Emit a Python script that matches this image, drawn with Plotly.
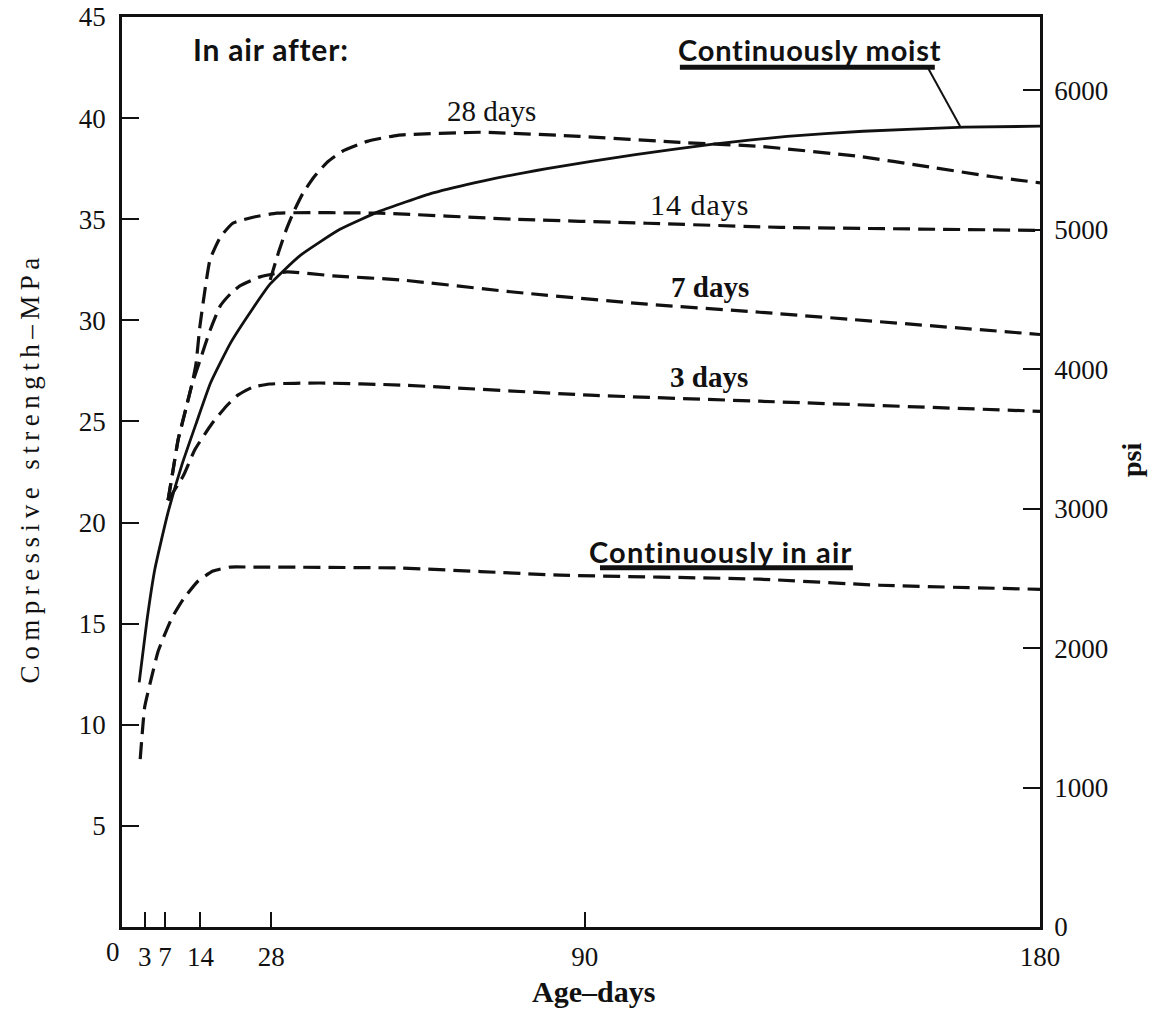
import plotly.graph_objects as go

MPA_TO_PSI = 145.038

# ---- data ----
moist_days = [1.9, 3.4, 5.0, 7.6, 10.4, 13.3, 16.0, 20.0, 24.4, 27.8, 33.7, 41.6, 49.5, 60, 70, 82.5, 100, 115, 130, 145, 165, 180]
moist_mpa = [12.1, 15.1, 17.7, 20.5, 22.9, 25.0, 26.9, 28.9, 30.6, 31.8, 33.2, 34.5, 35.4, 36.3, 36.9, 37.5, 38.2, 38.7, 39.1, 39.35, 39.55, 39.6]

air_days = [2.1, 3.0, 4.4, 5.6, 7.0, 8.4, 10.6, 13.5, 16.5, 19.9, 23.8, 53.5, 85.1, 124.6, 148.3, 180]
air_mpa = [8.3, 10.9, 12.4, 13.6, 14.5, 15.3, 16.2, 17.1, 17.6, 17.8, 17.8, 17.75, 17.4, 17.2, 16.9, 16.7]

d3_days = [7.6, 10.6, 12.9, 16.3, 19.3, 21.4, 24.4, 27.7, 37.6, 53.5, 91.0, 124.6, 180]
d3_mpa = [21.1, 22.3, 23.6, 24.9, 25.8, 26.3, 26.7, 26.85, 26.9, 26.8, 26.3, 26.0, 25.5]

d7_days = [7.6, 8.6, 9.6, 10.4, 11.4, 12.3, 13.9, 15.9, 17.9, 19.9, 21.8, 25.8, 31.1, 40.2, 53.5, 75.8, 102.3, 124.6, 180]
d7_mpa = [21.1, 22.6, 24.1, 24.9, 25.9, 26.8, 28.0, 29.5, 30.7, 31.3, 31.7, 32.15, 32.4, 32.2, 32.0, 31.4, 30.8, 30.4, 29.3]

d14_days = [7.6, 8.6, 9.6, 10.4, 11.4, 12.3, 13.1, 13.9, 14.9, 15.9, 17.9, 20.4, 24.4, 29.1, 49.5, 75.8, 102.3, 128.6, 180]
d14_mpa = [21.1, 22.6, 24.1, 24.9, 25.9, 26.8, 27.8, 29.7, 31.5, 33.0, 34.1, 34.8, 35.1, 35.3, 35.3, 35.0, 34.8, 34.6, 34.45]

d28_days = [27.8, 29.5, 31.0, 32.5, 34.3, 36.5, 39.0, 42.0, 47.0, 53.0, 69.3, 89.0, 108.8, 124.6, 144.4, 157.7, 170.7, 180]
d28_mpa = [32.0, 33.4, 34.5, 35.4, 36.3, 37.1, 37.8, 38.35, 38.85, 39.15, 39.3, 39.1, 38.8, 38.6, 38.1, 37.6, 37.1, 36.8]

x_tickvals = [3, 7, 14, 28, 90, 180]
x_ticktext = ["3", "7", "14", "28", "90", "180"]
y_tickvals = [5, 10, 15, 20, 25, 30, 35, 40, 45]
psi_tickvals = [0, 1000, 2000, 3000, 4000, 5000, 6000]

INK = "#111111"
DASH = "17px,8px"

fig = go.Figure()

for days, vals in [(air_days, air_mpa), (d3_days, d3_mpa), (d7_days, d7_mpa),
                   (d14_days, d14_mpa), (d28_days, d28_mpa)]:
    fig.add_trace(go.Scatter(
        x=days, y=vals, mode="lines",
        line=dict(color=INK, width=3.2, dash=DASH, shape="spline", smoothing=0.45),
        hoverinfo="skip", showlegend=False))

fig.add_trace(go.Scatter(
    x=moist_days, y=moist_mpa, mode="lines",
    line=dict(color=INK, width=2.8, shape="spline", smoothing=0.45),
    hoverinfo="skip", showlegend=False))

# invisible trace to activate the psi axis
fig.add_trace(go.Scatter(
    x=moist_days, y=[v * MPA_TO_PSI for v in moist_mpa], yaxis="y2",
    mode="lines", line=dict(width=0, color="rgba(0,0,0,0)"),
    hoverinfo="skip", showlegend=False))

axis_common = dict(ticks="inside", tickwidth=2, tickcolor=INK, showline=True,
                   linecolor=INK, linewidth=2.5, showgrid=False, zeroline=False,
                   automargin=False)

fig.update_layout(
    width=1152, height=1011,
    margin=dict(l=122, r=112, t=17, b=84, autoexpand=False),
    paper_bgcolor="white", plot_bgcolor="white",
    showlegend=False,
    font=dict(family="Liberation Serif", size=27, color=INK),
    xaxis=dict(range=[-1.5, 180], tickvals=x_tickvals, ticktext=x_ticktext,
               ticklen=15, mirror=True, ticklabelstandoff=4,
               tickfont=dict(size=27), **axis_common),
    yaxis=dict(range=[0, 45], tickvals=y_tickvals, ticklen=17,
               ticklabelstandoff=8, tickfont=dict(size=27), **axis_common),
    yaxis2=dict(range=[0, 45 * MPA_TO_PSI], tickvals=psi_tickvals,
                overlaying="y", side="right", ticklen=17,
                ticklabelstandoff=6, tickfont=dict(size=27), **axis_common),
)

label_font = dict(family="Liberation Serif", size=29, color=INK)
bold_sans = dict(family="Lato", size=29, color=INK)


def spaced(text, px):
    return '<span style="letter-spacing:%spx">%s</span>' % (px, text)


annotations = [
    dict(x=28.0, y=43.4, text="<b>" + spaced("In air after:", 0.8) + "</b>",
         font=dict(family="Lato", size=30, color=INK)),
    dict(x=134.5, y=43.4, text="<b>" + spaced("Continuously moist", 0.8) + "</b>", font=bold_sans),
    dict(x=116.9, y=18.56, text="<b>" + spaced("Continuously in air", 1.2) + "</b>", font=bold_sans),
    dict(x=71.5, y=40.35, text="28 days", font=label_font),
    dict(x=112.8, y=35.74, text=spaced("14 days", 1), font=dict(family="Liberation Serif", size=30, color=INK)),
    dict(x=114.7, y=31.63, text="<b>7 days</b>", font=label_font),
    dict(x=114.5, y=27.2, text="<b>3 days</b>", font=label_font),
]
for a in annotations:
    fig.add_annotation(xref="x", yref="y", showarrow=False,
                       xanchor="center", yanchor="middle", **a)

# axis titles and the "0" day label
fig.add_annotation(xref="paper", yref="paper", x=-0.1002, y=0.504,
                   text=spaced("Compressive strength–MPa", 5.5),
                   textangle=-90, showarrow=False, xanchor="center", yanchor="middle",
                   font=dict(family="Liberation Serif", size=27, color=INK))
fig.add_annotation(xref="paper", yref="paper", x=1.099, y=0.513,
                   text="<b>psi</b>", textangle=-90, showarrow=False,
                   xanchor="center", yanchor="middle",
                   font=dict(family="Liberation Serif", size=28, color=INK))
fig.add_annotation(xref="paper", yref="paper", x=0.514, y=-0.0714,
                   text="<b>Age–days</b>", showarrow=False,
                   xanchor="center", yanchor="middle",
                   font=dict(family="Liberation Serif", size=30, color=INK))
fig.add_annotation(xref="paper", yref="paper", x=-0.0098, y=-0.028,
                   text="0", showarrow=False, xanchor="center", yanchor="middle",
                   font=dict(family="Liberation Serif", size=27, color=INK))

# underlines and leader line
fig.add_shape(type="line", xref="x", yref="y", x0=108.8, x1=159.2, y0=42.52, y1=42.52,
              line=dict(color=INK, width=5))
fig.add_shape(type="line", xref="x", yref="y", x0=93.0, x1=143.0, y0=17.77, y1=17.77,
              line=dict(color=INK, width=5))
fig.add_shape(type="line", xref="x", yref="y", x0=157.8, x1=164.2, y0=42.5, y1=39.6,
              line=dict(color=INK, width=2))

fig.write_html("out.html")
